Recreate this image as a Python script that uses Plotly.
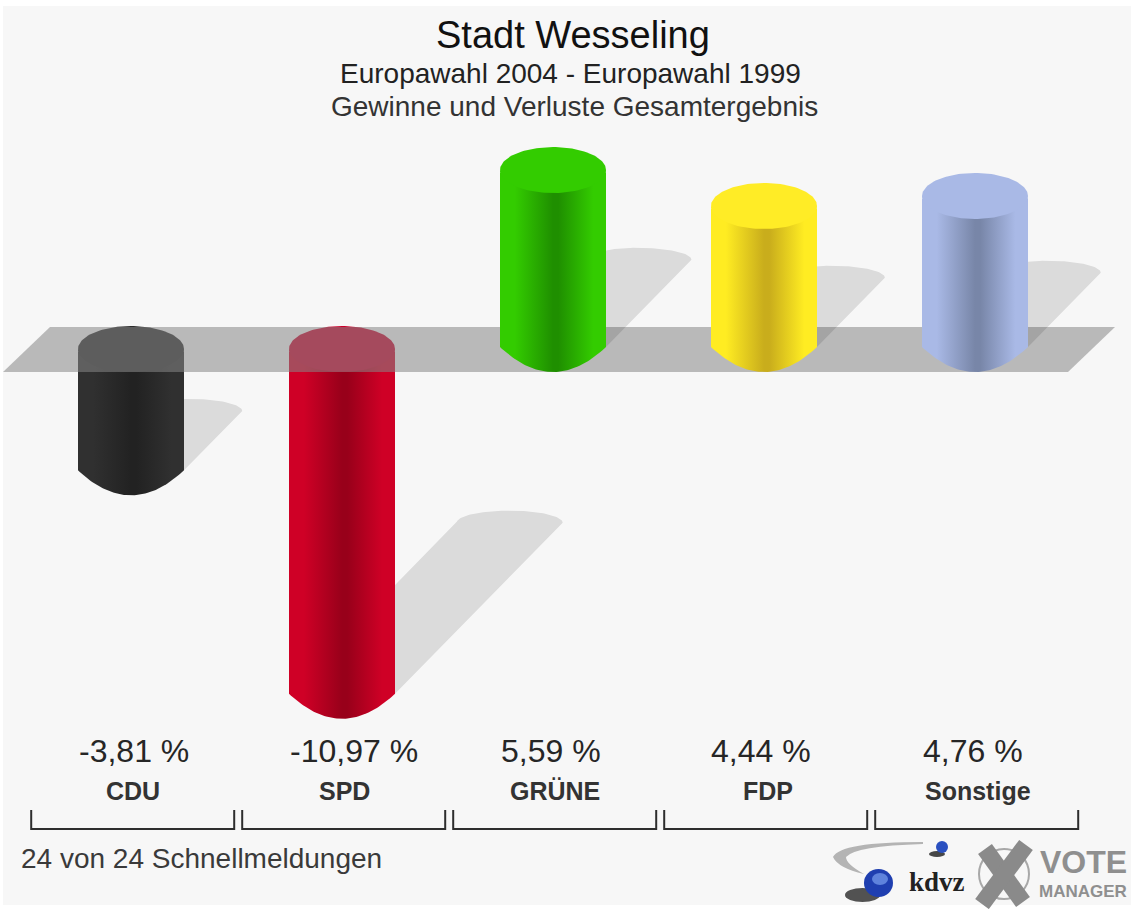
import numpy as np
import plotly.graph_objects as go

# ---------- data ----------
parties = ["CDU", "SPD", "GRÜNE", "FDP", "Sonstige"]
changes = [-3.81, -10.97, 5.59, 4.44, 4.76]
value_labels = ["-3,81 %", "-10,97 %", "5,59 %", "4,44 %", "4,76 %"]
title_lines = ["Stadt Wesseling", "Europawahl 2004 - Europawahl 1999", "Gewinne und Verluste Gesamtergebnis"]
footer = "24 von 24 Schnellmeldungen"

# ---------- colours ----------
edge_colors = ["#303030", "#cf0026", "#33cc00", "#ffec22", "#a9b9e6"]
mid_colors = ["#222222", "#98001a", "#1f8f00", "#c9ad1c", "#7886a8"]
top_colors = ["#2c2c2c", "#c9002a", "#33cc00", "#ffec26", "#a9b9e6"]
FONT = "Liberation Sans"

# ---------- canvas / scale ----------
W, H = 1131, 909
PX_X0, PX_STEP = 131.0, 211.0      # pixel centre of first bar, bar spacing
PX_ZERO, PX_UNIT = 347.0, 31.2     # pixel of value 0, pixels per percentage point
x_range = [(0 - PX_X0) / PX_STEP, (W - PX_X0) / PX_STEP]
y_range = [(PX_ZERO - H) / PX_UNIT, PX_ZERO / PX_UNIT]
HW = 53 / PX_STEP                  # half width of a cylinder, x units
RY = 25 / PX_UNIT                  # bottom curve depth, y units
TOP_RY = 23 / PX_UNIT              # top ellipse half height
TOP_LIFT = 2.5 / PX_UNIT
NEG_OFFSET = -4.5 / PX_UNIT        # negative bars hang slightly lower
SH_RY = 12 / PX_UNIT


def px(v):
    return v / W


def py(v):
    return 1 - v / H


def body(i, lo, hi):
    """Cylinder wall between value hi (flat, top) and lo (rounded bottom)."""
    u = np.linspace(-1, 1, 61)
    xs = i + HW * u
    ys = lo - RY * (1 - u ** 2)
    return [i - HW, *xs, i + HW, i - HW], [hi, *ys, hi, hi]


def ellipse(i, c):
    t = np.linspace(0, 2 * np.pi, 121)
    return i + HW * np.cos(t), c + TOP_LIFT + TOP_RY * np.sin(t)


fig = go.Figure()


def add_cyl(i, v):
    base = 0 if v > 0 else NEG_OFFSET
    hi, lo = (v, 0) if v > 0 else (base, v + base)
    scale = [[0, edge_colors[i]], [0.14, edge_colors[i]], [0.5, mid_colors[i]],
             [0.55, mid_colors[i]], [0.88, edge_colors[i]], [1, edge_colors[i]]]
    x, y = body(i, lo, hi)
    fig.add_trace(go.Scatter(x=x, y=y, mode="lines", line=dict(width=0), fill="toself",
                             fillgradient=dict(type="horizontal", colorscale=scale),
                             hoverinfo="skip", showlegend=False))
    ex, ey = ellipse(i, hi)
    fig.add_trace(go.Scatter(x=ex, y=ey, mode="lines", line=dict(width=0), fill="toself",
                             fillcolor=top_colors[i], hoverinfo="skip", showlegend=False))


def add_shadow(i, v):
    h = abs(v)
    anchor = 0 if v > 0 else v + NEG_OFFSET
    dx = 0.49 * h * PX_UNIT / PX_STEP
    dy = 0.5 * h
    t = np.linspace(np.pi, 0, 61)
    xs = i + dx + HW * np.cos(t)
    ys = anchor + dy + SH_RY * np.sin(t)
    x = [i - HW, *xs, i + HW, i - HW]
    y = [anchor, *ys, anchor, anchor]
    fig.add_trace(go.Scatter(x=x, y=y, mode="lines", line=dict(width=0), fill="toself",
                             fillcolor="rgba(0,0,0,0.115)", hoverinfo="skip", showlegend=False))


# bars that hang below the plane are seen through it
for i, v in enumerate(changes):
    if v < 0:
        add_shadow(i, v)
        add_cyl(i, v)

# translucent base plane
plane_x = [(p - PX_X0) / PX_STEP for p in (3, 50, 1115, 1068, 3)]
plane_y = [(PX_ZERO - p) / PX_UNIT for p in (372, 327, 327, 372, 372)]
fig.add_trace(go.Scatter(x=plane_x, y=plane_y, mode="lines", line=dict(width=0), fill="toself",
                         fillcolor="rgba(134,134,134,0.55)", hoverinfo="skip", showlegend=False))

for i, v in enumerate(changes):
    if v > 0:
        add_shadow(i, v)
        add_cyl(i, v)

shapes = [
    dict(type="rect", xref="paper", yref="paper", x0=px(3), x1=1, y0=py(905), y1=py(6),
         fillcolor="#f7f7f7", line_width=0, layer="below"),
]

# brackets
for i in range(len(parties)):
    c = 132.7 + PX_STEP * i
    x0, x1 = px(c - 101.5), px(c + 101.5)
    shapes.append(dict(type="path", xref="paper", yref="paper",
                       path=f"M {x0} {py(810)} L {x0} {py(829)} L {x1} {py(829)} L {x1} {py(810)}",
                       line=dict(color="#2e2e2e", width=2)))

# logo shapes
GR = "#8a8a8a"
shapes += [
    dict(type="path", xref="paper", yref="paper", fillcolor="#b4b4b4", line_width=0,
         path=f"M {px(923)} {py(842)} Q {px(840)} {py(842)} {px(833)} {py(857)} Q {px(838)} {py(868)} {px(864)} {py(874)} "
              f"Q {px(846)} {py(864)} {px(846)} {py(857)} Q {px(855)} {py(846)} {px(923)} {py(844)} Z"),
    dict(type="circle", xref="paper", yref="paper", x0=px(845), x1=px(880), y0=py(902), y1=py(888),
         fillcolor="rgba(40,40,40,0.8)", line_width=0),
    dict(type="circle", xref="paper", yref="paper", x0=px(864), x1=px(893), y0=py(897), y1=py(869),
         fillcolor="#1f3fb0", line_width=0),
    dict(type="circle", xref="paper", yref="paper", x0=px(872), x1=px(888), y0=py(885), y1=py(873),
         fillcolor="#5f83dc", line_width=0),
    dict(type="circle", xref="paper", yref="paper", x0=px(929), x1=px(945), y0=py(857), y1=py(851),
         fillcolor="rgba(40,40,40,0.85)", line_width=0),
    dict(type="circle", xref="paper", yref="paper", x0=px(936), x1=px(948), y0=py(853), y1=py(841),
         fillcolor="#2a50c0", line_width=0),
    dict(type="circle", xref="paper", yref="paper", x0=px(979), x1=px(1029), y0=py(899), y1=py(849),
         line=dict(color="#a8a8a8", width=2)),
    dict(type="line", xref="paper", yref="paper", x0=px(985), y0=py(849), x1=px(1023), y1=py(902),
         line=dict(color=GR, width=17)),
    dict(type="line", xref="paper", yref="paper", x0=px(1026), y0=py(845), x1=px(982), y1=py(904),
         line=dict(color=GR, width=17)),
]

ann = []


def text(x, y, s, size, color="#1c1c1c", bold=False, family=FONT, xanchor="center"):
    label = f"<b>{s}</b>" if bold else s
    ann.append(dict(x=px(x), y=py(y), xref="paper", yref="paper", text=label, showarrow=False,
                    xanchor=xanchor, yanchor="middle", font=dict(family=family, size=size, color=color)))


text(573, 35, title_lines[0], 38, "#111111")
text(570, 73, title_lines[1], 28, "#222222")
text(574, 106, title_lines[2], 28, "#333333")

value_shift = [2.6, 12, -2.4, -3, -2]
name_shift = [2, 2, 2, 3.7, 3]
for i in range(len(parties)):
    centre = PX_X0 + PX_STEP * i
    text(centre + value_shift[i], 751, value_labels[i], 32, "#262626")
    text(centre + name_shift[i], 791, parties[i], 25, "#333333", bold=True)

text(19, 858, footer, 28, "#3a3a3a", xanchor="left")
text(937, 882, "kdvz", 27, "#222222", bold=True, family="Liberation Serif")
text(1083, 862, "VOTE", 32, "#8f8f8f", bold=True)
text(1083, 891, "MANAGER", 17, "#8f8f8f", bold=True)

fig.update_layout(
    width=W, height=H, margin=dict(l=0, r=0, t=0, b=0), autosize=False,
    paper_bgcolor="#ffffff", plot_bgcolor="rgba(0,0,0,0)",
    xaxis=dict(range=x_range, visible=False, fixedrange=True),
    yaxis=dict(range=y_range, visible=False, fixedrange=True),
    shapes=shapes, annotations=ann, showlegend=False, hovermode=False,
)

fig.write_html("out.html", config={"displayModeBar": False},
               post_script="document.body.style.margin='0';")
